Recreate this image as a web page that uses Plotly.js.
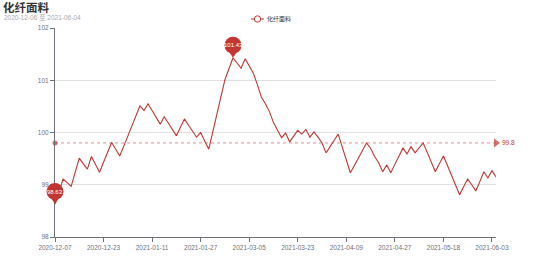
<!DOCTYPE html>
<html>
<head>
<meta charset="utf-8">
<script src="https://cdn.plot.ly/plotly-3.0.1.min.js"></script>
<style>html,body{margin:0;padding:0;background:#fff;}#chart{width:554px;height:265px;}</style>
</head>
<body>
<div id="chart"></div>
<script>
const seriesName = '化纤面料';
const chartTitle = '化纤面料';
const chartSubtitle = '2020-12-06 至 2021-06-04';
const dates = [
 '2020-12-07','2020-12-08','2020-12-09','2020-12-10','2020-12-11','2020-12-14','2020-12-15','2020-12-16','2020-12-17','2020-12-18',
 '2020-12-21','2020-12-22','2020-12-23','2020-12-24','2020-12-25','2020-12-28','2020-12-29','2020-12-30','2020-12-31','2021-01-04',
 '2021-01-05','2021-01-06','2021-01-07','2021-01-08','2021-01-11','2021-01-12','2021-01-13','2021-01-14','2021-01-15','2021-01-18',
 '2021-01-19','2021-01-20','2021-01-21','2021-01-22','2021-01-25','2021-01-26','2021-01-27','2021-01-29','2021-02-02','2021-02-04',
 '2021-02-08','2021-02-10','2021-02-19','2021-02-23','2021-02-25','2021-03-01','2021-03-02','2021-03-04','2021-03-05','2021-03-08',
 '2021-03-09','2021-03-10','2021-03-11','2021-03-12','2021-03-15','2021-03-16','2021-03-17','2021-03-18','2021-03-19','2021-03-22',
 '2021-03-23','2021-03-24','2021-03-25','2021-03-26','2021-03-29','2021-03-30','2021-03-31','2021-04-01','2021-04-02','2021-04-06',
 '2021-04-07','2021-04-08','2021-04-09','2021-04-12','2021-04-13','2021-04-14','2021-04-15','2021-04-16','2021-04-19','2021-04-20',
 '2021-04-21','2021-04-22','2021-04-23','2021-04-26','2021-04-27','2021-04-28','2021-04-29','2021-04-30','2021-05-06','2021-05-07',
 '2021-05-10','2021-05-11','2021-05-12','2021-05-13','2021-05-14','2021-05-17','2021-05-18','2021-05-19','2021-05-20','2021-05-21',
 '2021-05-24','2021-05-25','2021-05-26','2021-05-27','2021-05-28','2021-05-31','2021-06-01','2021-06-02','2021-06-03','2021-06-04'
];
const values = [
 98.63, 98.87, 99.11, 99.04, 98.97, 99.24, 99.51, 99.40, 99.30, 99.54,
 99.39, 99.24, 99.43, 99.62, 99.81, 99.68, 99.55, 99.74, 99.93, 100.13,
 100.32, 100.51, 100.42, 100.55, 100.42, 100.29, 100.16, 100.30, 100.18, 100.06,
 99.94, 100.10, 100.26, 100.14, 100.03, 99.91, 100.00, 99.84, 99.68, 100.01,
 100.35, 100.68, 101.01, 101.22, 101.43, 101.33, 101.23, 101.41, 101.28, 101.14,
 100.92, 100.68, 100.55, 100.40, 100.19, 100.04, 99.90, 99.99, 99.82, 99.93,
 100.04, 99.97, 100.06, 99.91, 100.01, 99.91, 99.80, 99.61, 99.73, 99.85,
 99.97, 99.72, 99.48, 99.23, 99.37, 99.52, 99.66, 99.80, 99.70, 99.54,
 99.42, 99.25, 99.38, 99.23, 99.39, 99.54, 99.70, 99.59, 99.73, 99.61,
 99.70, 99.80, 99.62, 99.43, 99.25, 99.40, 99.55, 99.37, 99.18, 99.00,
 98.81, 98.96, 99.11, 99.00, 98.88, 99.06, 99.25, 99.13, 99.27, 99.15
];
const averageValue = 99.8;
const averageLabel = '99.8';
const yTickValues = [98, 99, 100, 101, 102];
const xTickLabels = ['2020-12-07','2020-12-23','2021-01-11','2021-01-27','2021-03-05','2021-03-23','2021-04-09','2021-04-27','2021-05-18','2021-06-03'];

const RED = '#c23531';
const AXIS = '#6e7079';
const FONT = 'Liberation Sans, Arial, Noto Sans CJK SC, sans-serif';

// plot-area geometry in page pixels (used only to place the legend/title decorations)
const W = 554, H = 265, ML = 55, MR = 58, MT = 28, MB = 28;
const PW = W - ML - MR, PH = H - MT - MB;
const paperX = px => (px - ML) / PW;
const paperY = py => (H - MB - py) / PH;

let iMax = 0, iMin = 0;
values.forEach((v, i) => { if (v > values[iMax]) iMax = i; if (v < values[iMin]) iMin = i; });
const pins = [iMax, iMin];
const lastIdx = dates.length - 1;

const traces = [
  {
    x: dates, y: values, type: 'scatter', mode: 'lines',
    line: {color: RED, width: 1.1}, showlegend: false, name: seriesName,
    hoverinfo: 'x+y'
  },
  {
    x: [dates[0], dates[lastIdx]], y: [averageValue, averageValue],
    type: 'scatter', mode: 'lines', showlegend: false, hoverinfo: 'skip',
    line: {color: 'rgba(194,53,49,0.55)', width: 1, dash: 'dot'}
  },
  {
    x: [dates[0], dates[lastIdx]], y: [averageValue, averageValue],
    type: 'scatter', mode: 'markers', showlegend: false, hoverinfo: 'skip',
    marker: {symbol: ['circle', 'triangle-right'], size: [5, 8], color: RED, line: {width: 0}},
    cliponaxis: false
  }
];

const shapes = [];
const annotations = [];
pins.forEach(i => {
  const px = i / lastIdx;  // paper position of category i (range is [0, lastIdx])
  shapes.push({
    type: 'circle', xref: 'paper', yref: 'y', xsizemode: 'pixel', ysizemode: 'pixel',
    xanchor: px, yanchor: values[i], x0: -8.5, x1: 8.5, y0: 4, y1: 21,
    fillcolor: RED, line: {width: 0}, layer: 'above'
  });
  shapes.push({
    type: 'path', xref: 'paper', yref: 'y', xsizemode: 'pixel', ysizemode: 'pixel',
    xanchor: px, yanchor: values[i], path: 'M -6 9 L 0 0 L 6 9 Z',
    fillcolor: RED, line: {width: 0}, layer: 'above'
  });
  annotations.push({
    x: px, y: values[i], xref: 'paper', yref: 'y', xanchor: 'center', yanchor: 'middle', yshift: 12.5,
    text: values[i].toFixed(2), showarrow: false,
    font: {family: FONT, size: 6, color: '#fff'}
  });
});
annotations.push({
  x: dates[lastIdx], y: averageValue, xref: 'x', yref: 'y', xshift: 4, xanchor: 'left',
  text: averageLabel, showarrow: false, font: {family: FONT, size: 6.5, color: RED}
});
// title + subtitle
annotations.push({
  x: paperX(1), y: paperY(8), xref: 'paper', yref: 'paper', xanchor: 'left', yanchor: 'middle',
  text: '<b>' + chartTitle + '</b>', showarrow: false,
  font: {family: FONT, size: 11.5, color: '#333'}
});
annotations.push({
  x: paperX(2), y: paperY(17), xref: 'paper', yref: 'paper', xanchor: 'left', yanchor: 'middle',
  text: chartSubtitle, showarrow: false,
  font: {family: FONT, size: 6.5, color: '#aaa'}
});
// legend (drawn by hand: short line with open circle + label)
shapes.push({
  type: 'line', xref: 'paper', yref: 'paper', x0: paperX(251), x1: paperX(264), y0: paperY(19), y1: paperY(19),
  line: {color: RED, width: 1}
});
shapes.push({
  type: 'circle', xref: 'paper', yref: 'paper', xsizemode: 'pixel', ysizemode: 'pixel',
  xanchor: paperX(257.5), yanchor: paperY(19), x0: -3.2, x1: 3.2, y0: -3.2, y1: 3.2,
  fillcolor: '#fff', line: {color: RED, width: 1}
});
annotations.push({
  x: paperX(265), y: paperY(19), xref: 'paper', yref: 'paper', xanchor: 'left', yanchor: 'middle',
  text: seriesName, showarrow: false, font: {family: FONT, size: 6, color: '#333'}
});

const layout = {
  width: W, height: H,
  margin: {l: ML, r: MR, t: MT, b: MB, pad: 0, autoexpand: false},
  paper_bgcolor: '#fff', plot_bgcolor: '#fff',
  font: {family: FONT, color: AXIS},
  showlegend: false,
  xaxis: {
    type: 'category', range: [0, lastIdx], autorange: false,
    tickmode: 'array', tickvals: xTickLabels, ticktext: xTickLabels,
    showline: true, linecolor: AXIS, linewidth: 1, ticks: 'outside', ticklen: 4, tickcolor: AXIS,
    showgrid: false, zeroline: false, tickangle: 0,
    tickfont: {family: FONT, size: 6.5, color: AXIS}, fixedrange: true
  },
  yaxis: {
    range: [98, 102], autorange: false, tickmode: 'array', tickvals: yTickValues,
    showline: true, linecolor: AXIS, linewidth: 1, ticks: 'outside', ticklen: 4, tickcolor: AXIS,
    showgrid: true, gridcolor: '#e0e0e0', gridwidth: 1, zeroline: false,
    tickfont: {family: FONT, size: 6.5, color: AXIS}, fixedrange: true
  },
  shapes: shapes,
  annotations: annotations
};

Plotly.newPlot('chart', traces, layout, {displayModeBar: false, staticPlot: true});
</script>
</body>
</html>
